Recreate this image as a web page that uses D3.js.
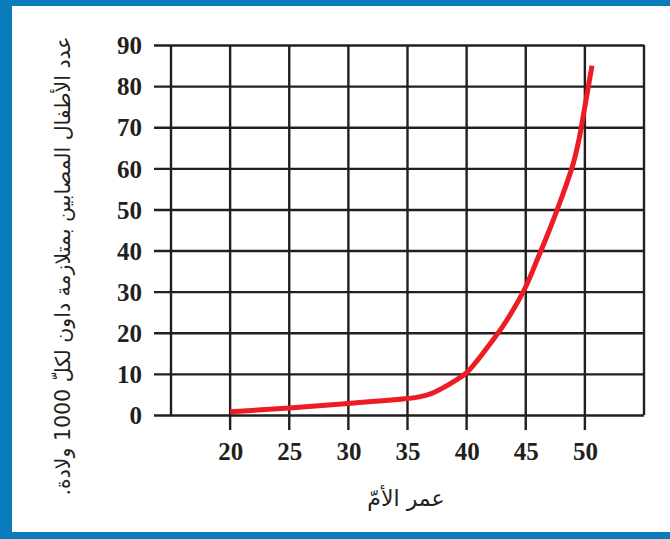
<!DOCTYPE html>
<html>
<head>
<meta charset="utf-8">
<script src="https://cdn.jsdelivr.net/npm/d3@7"></script>
<style>
  body { margin: 0; background: #fff; }
  .tick text { font-family: "Liberation Serif", serif; font-weight: bold; font-size: 25px; fill: #231f20; }
  .title { font-family: "DejaVu Sans", sans-serif; fill: #231f20; direction: rtl; unicode-bidi: embed; }
</style>
</head>
<body>
<div id="graph"></div>
<script>
// mother's age vs Down syndrome cases per 1000 births
var ages   = [20, 25, 30, 35, 36, 37, 38, 39, 40, 41, 42, 43, 44, 45, 46, 47, 48, 49, 49.5, 50, 50.6];
var cases  = [0.8, 1.7, 2.8, 4.0, 4.4, 5.2, 6.6, 8.3, 10.3, 13.6, 17.4, 21.3, 25.9, 31.2, 38, 45, 52.6, 61, 67, 75, 85];
var xTicks = [20, 25, 30, 35, 40, 45, 50];
var yTicks = [0, 10, 20, 30, 40, 50, 60, 70, 80, 90];
var xTitle = "عمر الأمّ";
var yTitle = "عدد الأطفال المصابين بمتلازمة داون لكلّ 1000 ولادة.";

var W = 670, H = 539;
var ink = "#231f20", blue = "#0a7bbb";

var svg = d3.select("#graph").append("svg")
    .attr("width", W)
    .attr("height", H);

svg.append("rect").attr("width", W).attr("height", H).attr("fill", "#fff");

// blue frame (top, left, bottom)
svg.append("rect").attr("x", 0).attr("y", 0).attr("width", W).attr("height", 6).attr("fill", blue);
svg.append("rect").attr("x", 0).attr("y", 0).attr("width", 12).attr("height", H).attr("fill", blue);
svg.append("rect").attr("x", 0).attr("y", 532).attr("width", W).attr("height", 7).attr("fill", blue);

var x = d3.scaleLinear().domain([15, 55]).range([171, 644]),
    y = d3.scaleLinear().domain([0, 90]).range([415, 45]);

// vertical grid lines (15 and 55 are the frame edges)
svg.append("g").selectAll("line")
    .data([15].concat(xTicks, [55]))
  .enter().append("line")
    .attr("x1", function(d){ return x(d); })
    .attr("x2", function(d){ return x(d); })
    .attr("y1", y(90))
    .attr("y2", function(d){ return (d === 15 || d === 55) ? y(0) : y(0) + 15; })
    .attr("stroke", ink)
    .attr("stroke-width", 2.4);

// y axis: labels + horizontal grid lines
var yAxis = svg.append("g")
    .attr("transform", "translate(" + x(15) + ",0)")
    .call(d3.axisLeft(y).tickValues(yTicks).tickSizeOuter(0).tickPadding(28));
yAxis.select(".domain").remove();
yAxis.selectAll(".tick line")
    .attr("x1", -17)
    .attr("x2", x(55) - x(15))
    .attr("stroke", ink)
    .attr("stroke-width", 2.4);
yAxis.selectAll(".tick text").attr("dy", "0.35em").attr("x", -29);

// x axis labels
var xAxis = svg.append("g")
    .attr("transform", "translate(0," + y(0) + ")")
    .call(d3.axisBottom(x).tickValues(xTicks).tickSize(0).tickPadding(30));
xAxis.select(".domain").remove();
xAxis.selectAll(".tick text").attr("dy", "0.6em");
xAxis.attr("font-family", null).attr("font-size", null);
yAxis.attr("font-family", null).attr("font-size", null);

// curve
var data = ages.map(function(a, i){ return { age: a, value: cases[i] }; });
var line = d3.line()
    .x(function(d){ return x(d.age); })
    .y(function(d){ return y(d.value); })
    .curve(d3.curveCatmullRom.alpha(0.5));

svg.append("path")
    .datum(data)
    .attr("d", line)
    .attr("fill", "none")
    .attr("stroke", "#ed1c24")
    .attr("stroke-width", 5);

// titles
svg.append("text")
    .attr("class", "title")
    .attr("x", 406)
    .attr("y", 506)
    .attr("text-anchor", "middle")
    .attr("font-size", 22)
    .text(xTitle);

svg.append("text")
    .attr("class", "title")
    .attr("transform", "translate(70,266) rotate(-90)")
    .attr("text-anchor", "middle")
    .attr("font-size", 20.5)
    .text(yTitle);
</script>
</body>
</html>
